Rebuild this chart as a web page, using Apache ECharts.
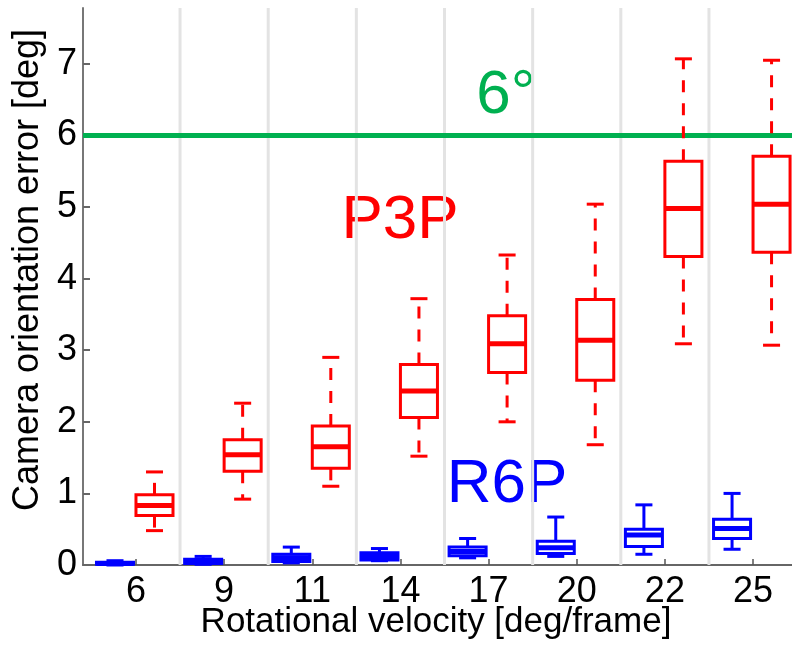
<!DOCTYPE html>
<html><head><meta charset="utf-8">
<script src="https://cdn.jsdelivr.net/npm/echarts@6/dist/echarts.min.js"></script>
<style>html,body{margin:0;padding:0;background:#fff}#c{width:792px;height:645px}</style>
</head><body><div id="c"></div>
<script>
// ---- data ----
const categories = ['6', '9', '11', '14', '17', '20', '22', '25'];
const yTickValues = [0, 1, 2, 3, 4, 5, 6, 7];

const p3pLow  = [0.48, 0.92, 1.10, 1.52, 2.00, 1.68, 3.09, 3.07];
const p3pQ1   = [0.69, 1.31, 1.35, 2.06, 2.69, 2.58, 4.31, 4.37];
const p3pMed  = [0.83, 1.54, 1.65, 2.43, 3.09, 3.14, 4.98, 5.04];
const p3pQ3   = [0.98, 1.75, 1.94, 2.80, 3.48, 3.71, 5.64, 5.71];
const p3pHigh = [1.30, 2.26, 2.90, 3.72, 4.33, 5.04, 7.07, 7.05];

const r6pLow  = [0.00, 0.01, 0.03, 0.06, 0.10, 0.12, 0.15, 0.22];
const r6pQ1   = [0.01, 0.02, 0.05, 0.07, 0.13, 0.16, 0.26, 0.37];
const r6pMed  = [0.02, 0.05, 0.10, 0.12, 0.19, 0.24, 0.42, 0.51];
const r6pQ3   = [0.04, 0.08, 0.15, 0.17, 0.25, 0.33, 0.50, 0.64];
const r6pHigh = [0.06, 0.12, 0.25, 0.23, 0.37, 0.67, 0.84, 1.00];

const threshold = 6;
const thresholdLabel = '6°';
const xTitle = 'Rotational velocity [deg/frame]';
const yTitle = 'Camera orientation error [deg]';

// ---- chart ----
const FONT = '"Liberation Sans", Arial, sans-serif';
const chart = echarts.init(document.getElementById('c'), null, {renderer: 'canvas'});
const catIdx = categories.map((c, i) => i);

function boxSeries(name, low, q1, med, q3, high, color, offset, dashed) {
  return {
    type: 'custom', name: name, z: 5, clip: false,
    data: categories.map((c, i) => [i + offset, low[i], q1[i], med[i], q3[i], high[i]]),
    encode: {x: 0, y: [1, 2, 3, 4, 5]},
    renderItem: function (params, api) {
      const x = api.value(0);
      const w = api.size([0.42, 0])[0];
      const cw = w * 0.46;
      const c = api.coord([x, api.value(3)]);
      const cx = c[0];
      const yLow = api.coord([x, api.value(1)])[1];
      const yQ1 = api.coord([x, api.value(2)])[1];
      const yMed = c[1];
      const yQ3 = api.coord([x, api.value(4)])[1];
      const yHigh = api.coord([x, api.value(5)])[1];
      const ws = {stroke: color, lineWidth: 3, lineDash: dashed ? [12, 11] : null, fill: null};
      const ss = {stroke: color, lineWidth: 3, fill: null};
      return {type: 'group', children: [
        {type: 'line', shape: {x1: cx, y1: yQ3, x2: cx, y2: yHigh}, style: ws},
        {type: 'line', shape: {x1: cx, y1: yQ1, x2: cx, y2: yLow}, style: ws},
        {type: 'line', shape: {x1: cx - cw / 2, y1: yHigh, x2: cx + cw / 2, y2: yHigh}, style: ss},
        {type: 'line', shape: {x1: cx - cw / 2, y1: yLow, x2: cx + cw / 2, y2: yLow}, style: ss},
        {type: 'rect', shape: {x: cx - w / 2, y: yQ3, width: w, height: yQ1 - yQ3}, style: {stroke: color, lineWidth: 3, fill: null}},
        {type: 'line', shape: {x1: cx - w / 2, y1: yMed, x2: cx + w / 2, y2: yMed}, style: {stroke: color, lineWidth: 5}}
      ]};
    }
  };
}

const option = {
  animation: false,
  backgroundColor: '#ffffff',
  grid: {left: 83, right: 0, top: 8, bottom: 80, containLabel: false},
  xAxis: {
    type: 'value', min: -0.601, max: 7.442,
    axisLine: {show: true, onZero: false, lineStyle: {color: '#666', width: 2}},
    axisTick: {show: true, inside: true, length: 6, customValues: catIdx, lineStyle: {color: '#555', width: 1.5}},
    axisLabel: {show: true, customValues: catIdx, formatter: v => categories[Math.round(v)], color: '#000',
      fontSize: 36, fontFamily: FONT, margin: 9},
    splitLine: {show: false}
  },
  yAxis: {
    type: 'value', min: 0, max: 7.78,
    axisLine: {show: true, onZero: false, lineStyle: {color: '#777', width: 2}},
    axisTick: {show: true, inside: true, length: 7, customValues: yTickValues, lineStyle: {color: '#666', width: 2}},
    axisLabel: {show: true, customValues: yTickValues, color: '#000', fontSize: 36, fontFamily: FONT, margin: 6},
    splitLine: {show: false}
  },
  series: [
    {
      type: 'custom', name: 'separators', z: 1, silent: true,
      data: categories.slice(1).map((c, i) => [i + 0.5]),
      encode: {x: 0},
      renderItem: function (params, api) {
        const cs = params.coordSys;
        const px = api.coord([api.value(0), 0])[0];
        return {type: 'line', shape: {x1: px, y1: cs.y, x2: px, y2: cs.y + cs.height}, style: {stroke: '#e3e3e3', lineWidth: 3}};
      },
      markLine: {
        silent: true, symbol: 'none', label: {show: false}, z: 3,
        lineStyle: {color: '#00b050', width: 5, type: 'solid'},
        data: [{yAxis: threshold}]
      }
    },
    boxSeries('R6P', r6pLow, r6pQ1, r6pMed, r6pQ3, r6pHigh, '#0000ff', -0.238, false),
    boxSeries('P3P', p3pLow, p3pQ1, p3pMed, p3pQ3, p3pHigh, '#ff0000', 0.21, true)
  ],
  graphic: [
    {type: 'text', x: 506, y: 96, style: {text: thresholdLabel, fill: '#00b050', font: '62px ' + FONT, textAlign: 'center', textVerticalAlign: 'middle'}},
    {type: 'text', x: 400, y: 221, style: {text: 'P3P', fill: '#ff0000', font: '62px ' + FONT, textAlign: 'center', textVerticalAlign: 'middle'}},
    {type: 'text', x: 507, y: 485, style: {text: 'R6P', fill: '#0000ff', font: '62px ' + FONT, textAlign: 'center', textVerticalAlign: 'middle'}},
    {type: 'text', x: 436, y: 622, style: {text: xTitle, fill: '#000', font: '35px ' + FONT, textAlign: 'center', textVerticalAlign: 'middle'}},
    {type: 'text', x: 28, y: 270, rotation: Math.PI / 2, style: {text: yTitle, fill: '#000', font: '36px ' + FONT, textAlign: 'center', textVerticalAlign: 'middle'}}
  ]
};
chart.setOption(option);
</script>
</body></html>
